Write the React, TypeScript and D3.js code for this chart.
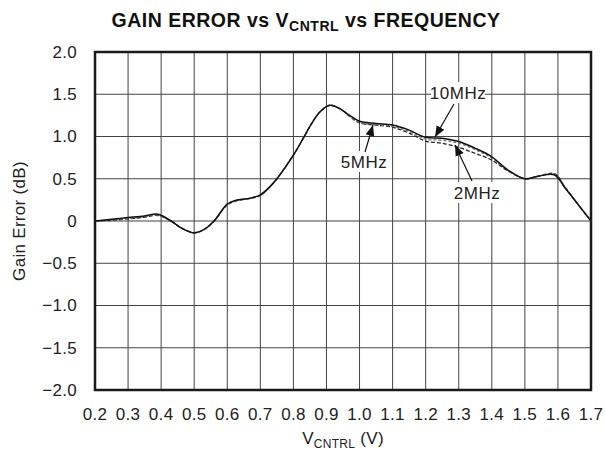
import React from "react";
import * as d3 from "d3";

const vcntrl = [0.2, 0.25, 0.3, 0.35, 0.39, 0.43, 0.46, 0.5, 0.53, 0.56, 0.6, 0.63, 0.67, 0.7, 0.73, 0.75, 0.8, 0.83, 0.85, 0.88, 0.91, 0.94, 0.97, 1.0, 1.05, 1.1, 1.15, 1.2, 1.25, 1.3, 1.35, 1.4, 1.45, 1.5, 1.54, 1.59, 1.62, 1.66, 1.7];
const gain10MHz = [0, 0.02, 0.04, 0.06, 0.08, 0.0, -0.08, -0.14, -0.1, 0.0, 0.2, 0.25, 0.27, 0.31, 0.41, 0.5, 0.78, 0.98, 1.12, 1.29, 1.37, 1.33, 1.25, 1.18, 1.155, 1.135, 1.075, 0.99, 0.98, 0.94, 0.86, 0.76, 0.6, 0.5, 0.53, 0.545, 0.4, 0.2, 0.0];
const gain5MHz = [0, 0.012, 0.03, 0.05, 0.07, 0.0, -0.08, -0.14, -0.1, 0.0, 0.19, 0.24, 0.27, 0.3, 0.41, 0.5, 0.78, 0.98, 1.12, 1.29, 1.37, 1.33, 1.24, 1.165, 1.14, 1.12, 1.06, 0.97, 0.955, 0.92, 0.845, 0.745, 0.595, 0.5, 0.53, 0.555, 0.41, 0.2, 0.0];
const gain2MHz = [0, 0.008, 0.025, 0.045, 0.065, 0.0, -0.08, -0.14, -0.1, 0.0, 0.19, 0.24, 0.27, 0.3, 0.41, 0.5, 0.78, 0.98, 1.12, 1.29, 1.37, 1.33, 1.24, 1.16, 1.135, 1.11, 1.04, 0.946, 0.92, 0.87, 0.8, 0.72, 0.59, 0.5, 0.53, 0.56, 0.41, 0.2, 0.0];

const xTicks = [0.2, 0.3, 0.4, 0.5, 0.6, 0.7, 0.8, 0.9, 1.0, 1.1, 1.2, 1.3, 1.4, 1.5, 1.6, 1.7];
const yTicks = [2.0, 1.5, 1.0, 0.5, 0, -0.5, -1.0, -1.5, -2.0];
const yTickLabels = ["2.0", "1.5", "1.0", "0.5", "0", "\u22120.5", "\u22121.0", "\u22121.5", "\u22122.0"];

const FONT = "'Liberation Sans', Arial, Helvetica, sans-serif";

export default function App() {
  const left = 95, right = 591, top = 52, bottom = 390;
  const x = d3.scaleLinear().domain([0.2, 1.7]).range([left, right]);
  const y = d3.scaleLinear().domain([-2, 2]).range([bottom, top]);

  const mk = (vals: number[]) =>
    d3.line<number>().x((_, i) => x(vcntrl[i])).y((d) => y(d)).curve(d3.curveCatmullRom.alpha(0.5))(vals) || "";

  const labels = [
    { text: "10MHz", tx: 458, ty: 93, from: [454, 104], to: [435, 137] },
    { text: "5MHz", tx: 364, ty: 162, from: [365, 152], to: [373, 125] },
    { text: "2MHz", tx: 477, ty: 193, from: [472, 181], to: [455, 145] },
  ];

  return (
    <svg width={605} height={456} style={{ position: "absolute", left: 0, top: 0, background: "#fff" }} fontFamily={FONT}>
      <defs>
        <marker id="arr" viewBox="0 0 10 10" refX="10" refY="5" markerWidth="11" markerHeight="11" markerUnits="userSpaceOnUse" orient="auto">
          <path d="M0,1 L10,5 L0,9 Z" fill="#111" />
        </marker>
      </defs>
      <rect width={605} height={456} fill="#fff" />
      <text x={306} y={27} textAnchor="middle" fontWeight="bold" fontSize={19.5} letterSpacing={0.5} fill="#111">
        GAIN ERROR vs V<tspan fontSize={14} dy={4}>CNTRL</tspan><tspan dy={-4}> vs FREQUENCY</tspan>
      </text>
      {xTicks.map((t) => (
        <line key={"gx" + t} x1={x(t)} x2={x(t)} y1={top} y2={bottom} stroke="#444" strokeWidth={1} />
      ))}
      {yTicks.map((t) => (
        <line key={"gy" + t} x1={left} x2={right} y1={y(t)} y2={y(t)} stroke="#444" strokeWidth={1} />
      ))}
      <rect x={left} y={top} width={right - left} height={bottom - top} fill="none" stroke="#1a1a1a" strokeWidth={2.5} />
      {labels.map((l) => (
        <rect key={"bg" + l.text} x={l.tx - (l.text.length * 10.4) / 2 - 1} y={l.ty - 11} width={l.text.length * 10.4 + 2} height={21} fill="#fff" />
      ))}
      <path d={mk(gain2MHz)} fill="none" stroke="#222" strokeWidth={1.3} strokeDasharray="4,2" />
      <path d={mk(gain5MHz)} fill="none" stroke="#777" strokeWidth={1.3} strokeDasharray="3,2" />
      <path d={mk(gain10MHz)} fill="none" stroke="#111" strokeWidth={1.5} />
      {labels.map((l) => (
        <g key={l.text}>
          <text x={l.tx} y={l.ty} dy="0.35em" textAnchor="middle" fontSize={17} letterSpacing={0.5} fill="#222">{l.text}</text>
          <line x1={l.from[0]} y1={l.from[1]} x2={l.to[0]} y2={l.to[1]} stroke="#111" strokeWidth={1.2} markerEnd="url(#arr)" />
        </g>
      ))}
      {yTicks.map((t, i) => (
        <text key={"yl" + t} x={77} y={y(t)} dy="0.35em" textAnchor="end" fontSize={17} letterSpacing={0.3} fill="#222">{yTickLabels[i]}</text>
      ))}
      {xTicks.map((t) => (
        <text key={"xl" + t} x={x(t)} y={420} textAnchor="middle" fontSize={17} letterSpacing={0.3} fill="#222">{t.toFixed(1)}</text>
      ))}
      <text x={343} y={444} textAnchor="middle" fontSize={17} letterSpacing={0.3} fill="#222">
        V<tspan fontSize={12} dy={4}>CNTRL</tspan><tspan dy={-4}> (V)</tspan>
      </text>
      <text transform={`translate(19,${(top + bottom) / 2}) rotate(-90)`} dy="0.35em" textAnchor="middle" fontSize={17} letterSpacing={0.3} fill="#222">
        Gain Error (dB)
      </text>
    </svg>
  );
}
